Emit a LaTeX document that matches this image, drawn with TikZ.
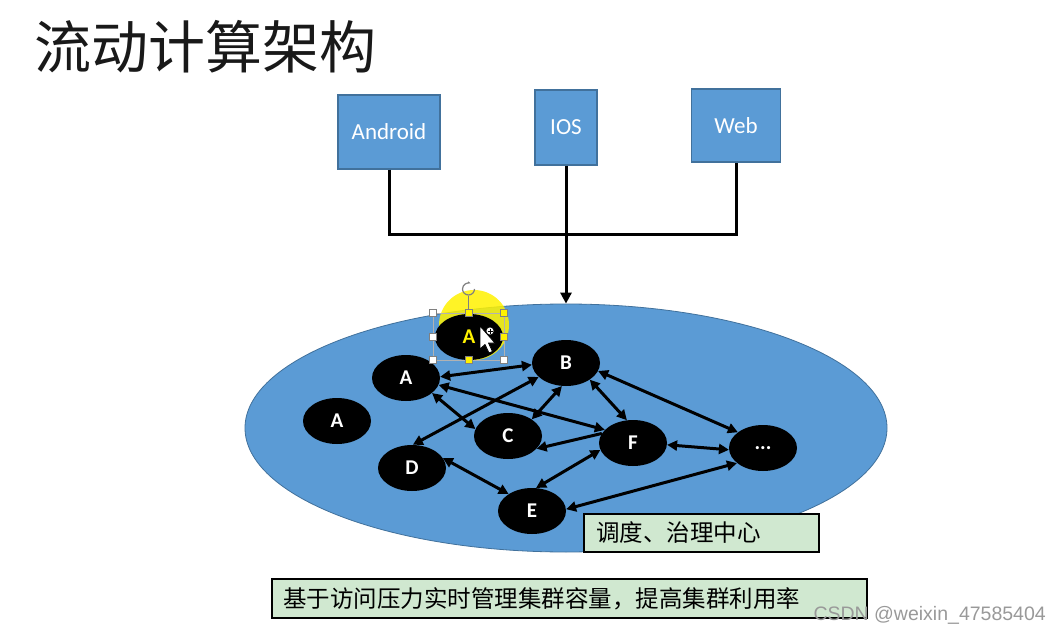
\documentclass[tikz,border=0pt]{standalone}
\usepackage{fontspec}
\setmainfont{Carlito}
\newfontfamily\cjk{Noto Sans CJK SC}
\newfontfamily\wmfont{Liberation Sans}
\usetikzlibrary{shapes.geometric,arrows.meta}

\definecolor{boxblue}{RGB}{91,155,213}
\definecolor{boxedge}{RGB}{65,113,156}
\definecolor{notegreen}{RGB}{208,232,208}
\definecolor{titleink}{RGB}{25,25,25}

\begin{document}
\begin{tikzpicture}[x=1pt,y=-1pt,
  client/.style={draw=boxedge,line width=1.2pt,fill=boxblue,text=white,
    font=\fontsize{23}{26}\selectfont,inner sep=0pt},
  svc/.style={ellipse,fill=black,text=white,font=\bfseries\fontsize{21}{24}\selectfont,
    minimum width=68pt,minimum height=46pt,inner sep=0pt},
  tipA/.tip={Triangle[length=10pt,width=10pt]},
  link/.style={line width=3pt,tipA-tipA},
  onelink/.style={line width=3pt,-tipA},
  wire/.style={line width=3pt},
  note/.style={draw=black,line width=2.5pt,fill=notegreen,align=left,
    font=\cjk\fontsize{23.5}{27}\selectfont,inner ysep=0pt},
  handle/.style={draw=gray,line width=0.6pt,minimum size=7pt,inner sep=0pt}
]
\useasboundingbox (0,0) rectangle (1060,636);
\fill[white] (0,0) rectangle (1060,636);

% title
\node[font=\cjk\fontsize{57}{60}\selectfont,text=titleink,anchor=west,inner sep=0pt]
  (title) at (34,47) {流动计算架构};

% clients
\node[client,minimum width=102pt,minimum height=74pt] (android) at (389,132) {Android};
\node[client,minimum width=62pt,minimum height=75pt] (ios) at (566,127.5) {IOS};
\node[client,minimum width=89pt,minimum height=73pt] (web) at (736,125.5) {Web};

% cluster
\node[ellipse,fill=boxblue,draw=boxedge,line width=0.8pt,
  minimum width=642pt,minimum height=248pt] (cluster) at (566,428) {};

% client bus into the cluster
\coordinate (bus) at (566,235);
\draw[wire] (android.south) |- (bus) -| (web.south);
\draw[wire,-{Triangle[length=11pt,width=11pt]}] (ios.south) -- (cluster.north);

% highlight behind the selected service
\node[circle,fill=yellow,opacity=0.85,minimum size=70pt] (glow) at (474,325) {};

% services
\node[svc,text=yellow] (atop) at (469,337) {A};
\node[svc] (a1) at (406,378) {A};
\node[svc] (a2) at (337,421) {A};
\node[svc] (b) at (566,363) {B};
\node[svc] (c) at (508,436) {C};
\node[svc] (d) at (412,468) {D};
\node[svc] (e) at (532,511) {E};
\node[svc] (f) at (633,443) {F};
\node[svc] (more) at (763,448) {...};

% service calls
\draw[link] (a1.2) -- (b.183);
\draw[link] (a1.-12) -- (f.155);
\draw[link] (a1.-30) -- (c.168);
\draw[link] (b.-153) -- (d.88);
\draw[link] (b.-100) -- (c.35);
\draw[link] (b.-35) -- (f.105);
\draw[link] (b.-14) -- (more.148);
\draw[onelink] (f.163) -- (c.-24);
\draw[link] (d.18) -- (e.144);
\draw[link] (e.80) -- (f.192);
\draw[link] (e.3) -- (more.-150);
\draw[link] (f.-3) -- (more.183);

% selection frame around the top service
\draw[gray!60,line width=0.5pt] (433,313) rectangle (504,360);
\node[handle,fill=white] (h1) at (433,313) {};
\node[handle,fill=yellow] (h2) at (468.5,313) {};
\node[handle,fill=yellow] (h3) at (504,313) {};
\node[handle,fill=white] (h4) at (433,337) {};
\node[handle,fill=yellow] (h5) at (504,337) {};
\node[handle,fill=white] (h6) at (433,360) {};
\node[handle,fill=yellow] (h7) at (468.5,360) {};
\node[handle,fill=white] (h8) at (504,360) {};
\draw[gray,line width=0.8pt] (h2.north) -- (468.5,296);
\draw[gray,line width=1.2pt,-{Stealth[length=3pt]}] (474.5,289) arc[start angle=0,end angle=290,radius=6];

% pointer
\draw[black,fill=white,line width=0.8pt,line join=round]
  (480,326) -- (480,349) -- (485,344.5) -- (489,353) -- (492.5,351.5) -- (488.5,343) -- (495,343) -- cycle;
\draw[black,fill=white,line width=0.6pt] (490,331) circle (4);
\draw[black,line width=0.6pt] (487.5,331) -- (492.5,331) (490,328.5) -- (490,333.5);

% notes
\node[note,minimum width=235pt,minimum height=38pt,text width=211pt,inner xsep=12pt]
  (center) at (701.5,533) {调度、治理中心};
\node[note,minimum width=595pt,minimum height=39pt,text width=573pt,inner xsep=11pt]
  (goal) at (569.5,598.5) {基于访问压力实时管理集群容量，提高集群利用率};

% watermark
\node[font=\wmfont\fontsize{19.5}{22}\selectfont,text=gray!80,anchor=east,inner sep=0pt]
  (mark) at (1046,615) {CSDN @weixin\_47585404};
\end{tikzpicture}
\end{document}
